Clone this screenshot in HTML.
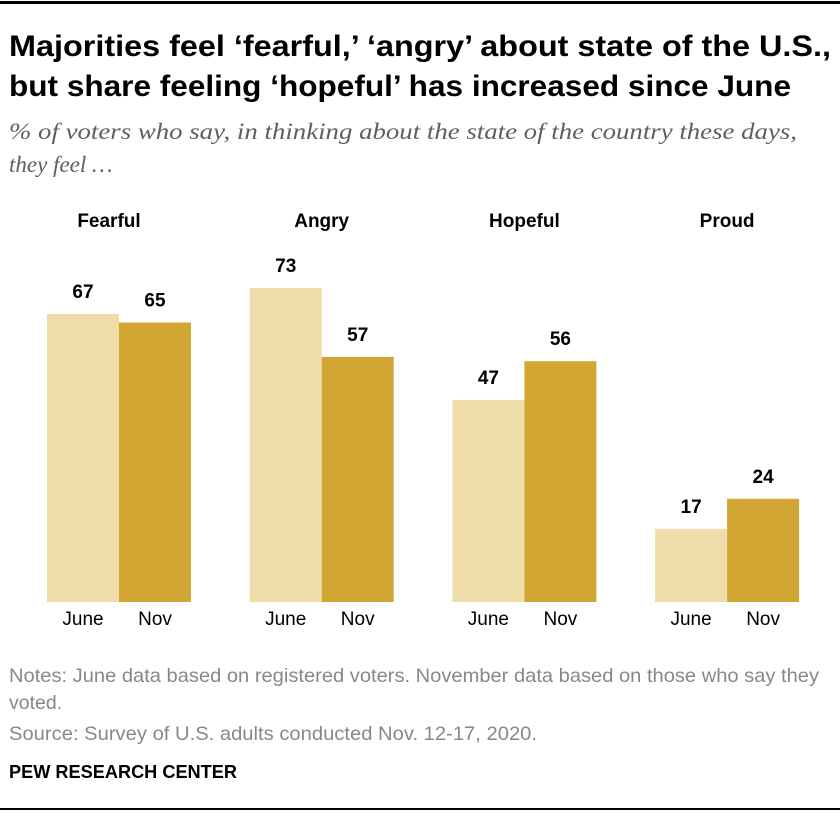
<!DOCTYPE html>
<html><head><meta charset="utf-8"><style>
body{margin:0;background:#fff;}
svg{display:block;}
</style></head><body>
<svg width="840" height="814" xmlns="http://www.w3.org/2000/svg">
<rect x="0" y="0" width="840" height="814" fill="#fff"/>
<rect x="0" y="1" width="840" height="3" fill="#000"/>
<g font-family="Liberation Sans, sans-serif" font-weight="bold" font-size="30" fill="#000">
<text x="9" y="56" textLength="822" lengthAdjust="spacingAndGlyphs">Majorities feel ‘fearful,’ ‘angry’ about state of the U.S.,</text>
<text x="9" y="96" textLength="782" lengthAdjust="spacingAndGlyphs">but share feeling ‘hopeful’ has increased since June</text>
</g>
<g font-family="Liberation Serif, serif" font-style="italic" font-size="23" fill="#5f5f5f">
<text x="9" y="139" textLength="788" lengthAdjust="spacingAndGlyphs">% of voters who say, in thinking about the state of the country these days,</text>
<text x="9" y="172">they feel …</text>
</g>
<g id="plot"></g>
<g font-family="Liberation Sans, sans-serif" font-size="19.5" fill="#888">
<text x="9" y="682" textLength="810" lengthAdjust="spacingAndGlyphs">Notes: June data based on registered voters. November data based on those who say they</text>
<text x="9" y="709">voted.</text>
<text x="9" y="740" textLength="528" lengthAdjust="spacingAndGlyphs">Source: Survey of U.S. adults conducted Nov. 12-17, 2020.</text>
</g>
<text x="9" y="778" textLength="228" lengthAdjust="spacingAndGlyphs" font-family="Liberation Sans, sans-serif" font-weight="bold" font-size="18" fill="#000">PEW RESEARCH CENTER</text>
<rect x="0" y="808" width="840" height="2" fill="#000"/>
</svg>
<script>
const categories=["Fearful","Angry","Hopeful","Proud"];
const seriesNames=["June","Nov"];
const juneValues=[67,73,47,17];
const novValues=[65,57,56,24];
const colors=["#EEDCA9","#D2A633"];
const NS="http://www.w3.org/2000/svg";
const plot=document.getElementById('plot');
const baseY=602, pxPer=4.3, barW=72, group0=47, groupStep=202.7;
function y(v){return baseY-v*pxPer;}
function gx(i){return group0+i*groupStep;}
function mk(tag,attrs,txt){const e=document.createElementNS(NS,tag);for(const k in attrs)e.setAttribute(k,attrs[k]);if(txt!=null)e.textContent=txt;plot.appendChild(e);return e;}
categories.forEach((c,i)=>{
  const x0=gx(i);
  const t=mk('text',{x:x0+barW+(i===0?-10:0),y:227,'text-anchor':'middle','font-family':'Liberation Sans, sans-serif','font-weight':'bold','font-size':19,fill:'#000'},c);
  
  
  [juneValues[i],novValues[i]].forEach((v,j)=>{
    const bx=x0+j*barW;
    const r=mk('rect',{x:bx,y:y(v),width:barW,height:baseY-y(v),fill:colors[j]});
    
    
    const l=mk('text',{x:bx+barW/2,y:y(v)-16,'text-anchor':'middle','font-family':'Liberation Sans, sans-serif','font-weight':'bold','font-size':19,fill:'#000'},String(v));
    
    
    const s=mk('text',{x:bx+barW/2,y:625,'text-anchor':'middle','font-family':'Liberation Sans, sans-serif','font-size':19,fill:'#000'},seriesNames[j]);
    
    
  });
});
</script>
</body></html>
